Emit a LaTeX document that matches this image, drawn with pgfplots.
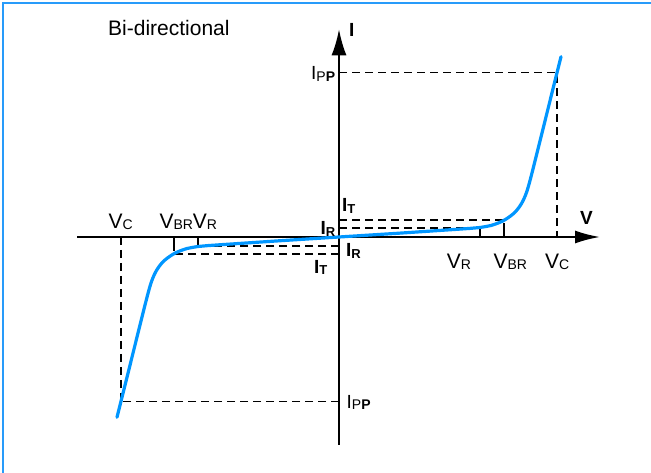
\documentclass[border=0pt]{standalone}
\usepackage{fontspec}
\setmainfont{Liberation Sans}
\usepackage{pgfplots}
\pgfplotsset{compat=1.18}
\usetikzlibrary{arrows.meta}
\definecolor{curveblue}{RGB}{0,150,255}
\definecolor{frameblue}{RGB}{40,155,250}
\newcommand{\fs}[1]{\fontsize{#1bp}{#1bp}\selectfont}
\newcommand{\sub}[1]{\raisebox{-1.2bp}{\fs{14}#1}}
\newcommand{\bsub}[1]{\raisebox{-1.5bp}{\fs{13}\bfseries #1}}
\begin{document}
\begin{tikzpicture}
\begin{axis}[
  scale only axis, width=651bp, height=473bp,
  xmin=-339, xmax=312, ymin=-236, ymax=237,
  hide axis, clip=false,
  dsh/.style={black, line width=1.7bp, dash pattern=on 8bp off 5bp},
  ax/.style={black, line width=2bp},
]
% frame
\addplot[frameblue, line width=1.8bp] coordinates {(-335.7,-236) (-335.7,233.7) (312,233.7)};
% dashed guide lines
\addplot[dsh] coordinates {(0,164.5) (218,164.5) (218,0)};
\addplot[dsh] coordinates {(0,17) (164,17)};
\addplot[dsh] coordinates {(0,9) (141,9)};
\addplot[dsh] coordinates {(0,-9) (-141,-9)};
\addplot[dsh] coordinates {(0,-17) (-164,-17)};
\addplot[dsh] coordinates {(0,-164.5) (-218,-164.5)};
\addplot[dsh] coordinates {(-218,0) (-218,-164.5)};
% ticks
\addplot[ax] coordinates {(141,0) (141,9.5)};
\addplot[ax] coordinates {(165,0) (165,14)};
\addplot[ax] coordinates {(-141,0) (-141,-9.5)};
\addplot[ax] coordinates {(-165,0) (-165,-14)};
% axes
\addplot[ax, -{Latex[length=25bp,width=13bp]}] coordinates {(-261.7,0) (261,0)};
\addplot[ax, -{Latex[length=26bp,width=15bp]}] coordinates {(0,-208) (0,207.7)};
% characteristic curve
\addplot[curveblue, line width=3.2bp, line join=round, line cap=round] coordinates {
 (-222,-180.3) (-195,-72) (-192,-60.2) (-190.7,-55.3) (-189.4,-50.6) (-188,-46)
 (-186.4,-41.6) (-184.6,-37.4) (-182.5,-33.4) (-180,-29.6) (-177.3,-26.2)
 (-174.3,-23.2) (-171,-20.6) (-167.5,-18.2) (-164,-16.1) (-160,-14.3)
 (-156,-12.8) (-152,-11.5) (-147,-10.5) (-141,-9.5) (-131,-8.6) (-121,-7.9)
 (-60,-3.8) (0,0) (60,3.8)
 (121,7.9) (131,8.6) (141,9.5) (147,10.5) (152,11.5) (156,12.8) (160,14.3)
 (164,16.1) (167.5,18.2) (171,20.6) (174.3,23.2) (177.3,26.2) (180,29.6)
 (182.5,33.4) (184.6,37.4) (186.4,41.6) (188,46) (189.4,50.6) (190.7,55.3)
 (192,60.2) (195,72) (222,180.3)};
% labels
\node[anchor=base west, inner sep=0] at (axis cs:-231,201) {\fs{21}Bi-directional};
\node[anchor=base west, inner sep=0] at (axis cs:10,200.3) {\fs{19}\bfseries I};
\node[anchor=base west, inner sep=0] at (axis cs:241,12) {\fs{19}\bfseries V};
\node[anchor=base west, inner sep=0] at (axis cs:107.7,-31.3) {\fs{21}V\sub{R}};
\node[anchor=base west, inner sep=0] at (axis cs:154.3,-31.3) {\fs{21}V\sub{BR}};
\node[anchor=base west, inner sep=0] at (axis cs:206,-31.3) {\fs{21}V\sub{C}};
\node[anchor=base west, inner sep=0] at (axis cs:-230.7,8.7) {\fs{21}V\sub{C}};
\node[anchor=base west, inner sep=0] at (axis cs:-179.7,8.7) {\fs{21}V\sub{BR}};
\node[anchor=base west, inner sep=0] at (axis cs:-146.3,8.7) {\fs{21}V\sub{R}};
\node[anchor=base west, inner sep=0] at (axis cs:3,25.4) {\fs{19}\bfseries I\bsub{T}};
\node[anchor=base east, inner sep=0] at (axis cs:-3.5,2) {\fs{19}\bfseries I\bsub{R}};
\node[anchor=base west, inner sep=0] at (axis cs:7,-19.6) {\fs{19}\bfseries I\bsub{R}};
\node[anchor=base east, inner sep=0] at (axis cs:-11.5,-36.3) {\fs{19}\bfseries I\bsub{T}};
\node[anchor=base west, inner sep=0] at (axis cs:-28,157) {\fs{19}I\sub{P\textbf{P}}};
\node[anchor=base west, inner sep=0] at (axis cs:7.5,-171.3) {\fs{19}I\sub{P\textbf{P}}};
\end{axis}
\pgfresetboundingbox
\path (current axis.south west) rectangle (current axis.north east);
\end{tikzpicture}
\end{document}
